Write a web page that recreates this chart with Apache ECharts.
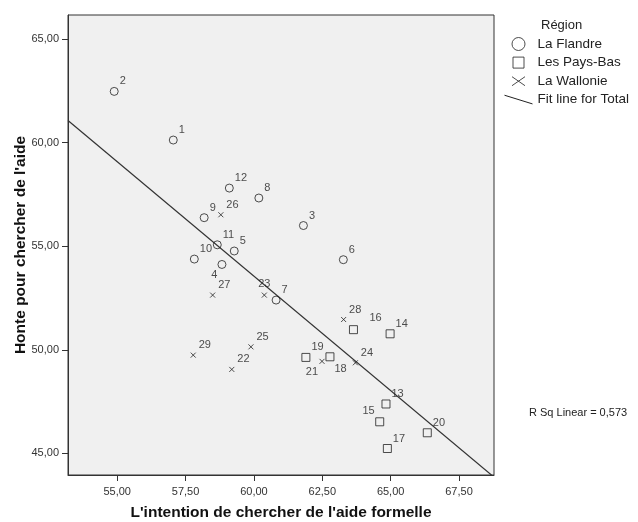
<!DOCTYPE html>
<html>
<head>
<meta charset="utf-8">
<script src="https://cdn.jsdelivr.net/npm/echarts@6/dist/echarts.min.js"></script>
<style>
  html, body { margin: 0; padding: 0; background: #ffffff; }
  #chart { width: 638px; height: 522px; }
</style>
</head>
<body>
<div id="chart"></div>
<script>
// Case numbers and scores per region
const flandreIds = [1, 2, 3, 4, 5, 6, 7, 8, 9, 10, 11, 12];
const flandreX = [57.05, 54.89, 61.81, 58.83, 59.28, 63.27, 60.81, 60.18, 58.18, 57.82, 58.66, 59.10];
const flandreY = [60.13, 62.48, 56.00, 54.12, 54.77, 54.35, 52.40, 57.33, 56.38, 54.38, 55.07, 57.81];

const paysBasIds = [13, 14, 15, 16, 17, 18, 19, 20];
const paysBasX = [64.83, 64.98, 64.60, 63.64, 64.88, 62.78, 61.90, 66.34];
const paysBasY = [47.38, 50.77, 46.52, 50.97, 45.23, 49.66, 49.63, 45.99];

const wallonieIds = [21, 22, 23, 24, 25, 26, 27, 28, 29];
const wallonieX = [62.49, 59.19, 60.38, 63.71, 59.89, 58.79, 58.49, 63.28, 57.78];
const wallonieY = [49.44, 49.05, 52.64, 49.37, 50.14, 56.52, 52.64, 51.46, 49.74];

const xTicks = [55, 57.5, 60, 62.5, 65, 67.5];
const yTicks = [45, 50, 55, 60, 65];
const xRange = [53.2, 68.78];
const yRange = [43.95, 66.17];
const rSquaredText = 'R Sq Linear = 0,573';

const FONT = '"Liberation Sans", Arial, sans-serif';
const INK = '#222222';

// Case-number labels that sit somewhere other than up-right of their marker
const labelSpots = {
  4:  { align: 'right',  offset: [-4.5, 11] },
  15: { align: 'right',  offset: [-5, -11] },
  16: { align: 'left',   offset: [16, -12] },
  18: { align: 'left',   offset: [4.5, 12] },
  21: { align: 'right',  offset: [-4, 11] },
  23: { align: 'center', offset: [0, -11] }
};

function caseLabel(id) {
  const spot = labelSpots[id] || { align: 'left', offset: [5.5, -10] };
  return {
    show: true,
    position: 'inside',
    formatter: String(id),
    align: spot.align,
    verticalAlign: 'middle',
    offset: spot.offset,
    color: INK,
    fontSize: 11,
    fontFamily: FONT
  };
}

function points(ids, xs, ys) {
  return ids.map((id, i) => ({ value: [xs[i], ys[i]], label: caseLabel(id) }));
}

// Least-squares line through all cases
const allX = flandreX.concat(paysBasX, wallonieX);
const allY = flandreY.concat(paysBasY, wallonieY);
const n = allX.length;
const mx = allX.reduce((s, v) => s + v, 0) / n;
const my = allY.reduce((s, v) => s + v, 0) / n;
let sxy = 0, sxx = 0;
for (let i = 0; i < n; i++) {
  sxy += (allX[i] - mx) * (allY[i] - my);
  sxx += (allX[i] - mx) * (allX[i] - mx);
}
const slope = sxy / sxx;
const intercept = my - slope * mx;
const fitData = xRange.map(x => [x, intercept + slope * x]);

const fmt = v => v.toFixed(2).replace('.', ',');

const SQUARE = 'path://M0,0L10,0L10,10L0,10Z';
const CROSS = 'path://M0,0L10,10M10,0L0,10';
const LEG_SQUARE = 'path://M1,1L12,1L12,12L1,12ZM0,0M13,13';
const LEG_CROSS = 'path://M0,2L13,11M13,2L0,11M0,0M13,13';
const LEG_LINE = 'path://M0,2L29,11M0,0M29,13';

const hollow = { color: 'none', borderColor: INK, borderWidth: 1 };

const chart = echarts.init(document.getElementById('chart'), null, { renderer: 'canvas' });
chart.setOption({
  animation: false,
  backgroundColor: '#ffffff',
  textStyle: { fontFamily: FONT },
  grid: {
    left: 68, top: 15, right: 144, bottom: 47,
    outerBoundsMode: 'none', containLabel: false,
    show: true, backgroundColor: '#f0f0f0', borderColor: '#333333', borderWidth: 1
  },
  xAxis: {
    type: 'value', min: xRange[0], max: xRange[1],
    name: "L'intention de chercher de l'aide formelle",
    nameLocation: 'middle', nameGap: 30, nameMoveOverlap: false,
    nameTextStyle: { fontSize: 15.5, fontWeight: 'bold', color: '#111', fontFamily: FONT },
    axisLine: { show: true, lineStyle: { color: '#333', width: 1 } },
    axisTick: { show: true, length: 6, customValues: xTicks, lineStyle: { color: '#333' } },
    axisLabel: { customValues: xTicks, formatter: fmt, margin: 11, fontSize: 11, color: '#333', fontFamily: FONT },
    splitLine: { show: false }
  },
  yAxis: {
    type: 'value', min: yRange[0], max: yRange[1],
    name: "Honte pour chercher de l'aide",
    nameLocation: 'middle', nameGap: 39, nameMoveOverlap: false,
    nameTextStyle: { fontSize: 15.5, fontWeight: 'bold', color: '#111', fontFamily: FONT },
    axisLine: { show: true, lineStyle: { color: '#333', width: 1 } },
    axisTick: { show: true, length: 6, customValues: yTicks, lineStyle: { color: '#333' } },
    axisLabel: { customValues: yTicks, formatter: fmt, margin: 9, fontSize: 11, color: '#333', fontFamily: FONT },
    splitLine: { show: false }
  },
  legend: {
    orient: 'vertical', left: 502, top: 35, padding: 0,
    itemWidth: 28, itemHeight: 13, itemGap: 0.6,
    selectedMode: false, symbolKeepAspect: true,
    textStyle: { fontSize: 13.5, lineHeight: 14, color: INK, fontFamily: FONT },
    data: [
      { name: 'La Flandre', icon: 'circle', itemStyle: hollow },
      { name: 'Les Pays-Bas', icon: LEG_SQUARE, itemStyle: hollow },
      { name: 'La Wallonie', icon: LEG_CROSS, itemStyle: hollow },
      { name: 'Fit line for Total', icon: LEG_LINE, itemStyle: hollow }
    ]
  },
  graphic: [
    { type: 'text', left: 541, top: 19, style: { text: 'Région', fill: INK, font: '13px ' + FONT } },
    { type: 'text', left: 529, top: 407, style: { text: rSquaredText, fill: INK, font: '11px ' + FONT } }
  ],
  series: [
    {
      name: 'Fit line for Total', type: 'line', data: fitData, showSymbol: false, symbol: 'none',
      lineStyle: { color: '#333', width: 1.2 }, itemStyle: { color: '#333' }, clip: true, z: 1, silent: true
    },
    {
      name: 'La Flandre', type: 'scatter', symbol: 'circle', symbolSize: 8,
      itemStyle: hollow, data: points(flandreIds, flandreX, flandreY), z: 3
    },
    {
      name: 'Les Pays-Bas', type: 'scatter', symbol: SQUARE, symbolSize: 8,
      itemStyle: hollow, data: points(paysBasIds, paysBasX, paysBasY), z: 3
    },
    {
      name: 'La Wallonie', type: 'scatter', symbol: CROSS, symbolSize: 5,
      itemStyle: hollow, data: points(wallonieIds, wallonieX, wallonieY), z: 3
    }
  ]
});
</script>
</body>
</html>
